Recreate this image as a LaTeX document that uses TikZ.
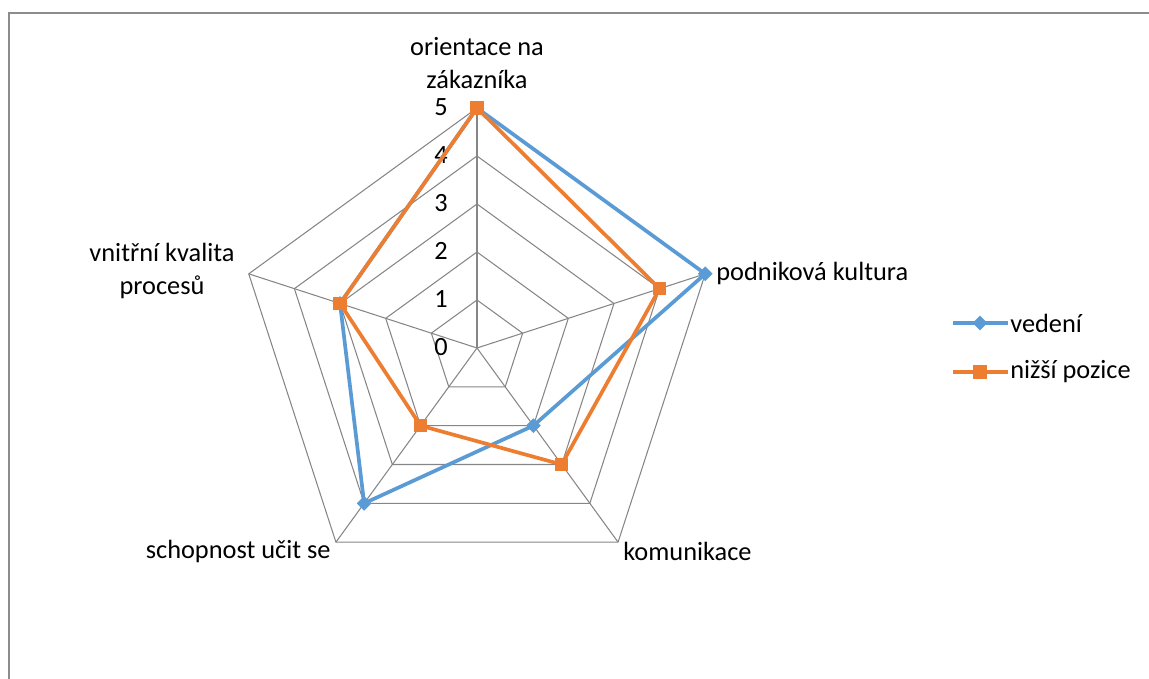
\documentclass[tikz,border=0pt]{standalone}
\usepackage{fontspec}
\setmainfont{Carlito}
\usetikzlibrary{shapes.geometric}
\definecolor{gridgray}{HTML}{868686}
\definecolor{framegray}{HTML}{8C8C8C}
\definecolor{vedblue}{HTML}{5B9BD5}
\definecolor{nizorange}{HTML}{ED7D31}
\tikzset{
  frame/.style={draw=framegray, line width=0.9pt},
  radargrid/.style={draw=gridgray, line width=0.6pt, line join=round},
  serA/.style={draw=vedblue, line width=2.1pt, line join=round},
  serB/.style={draw=nizorange, line width=2.1pt, line join=round},
  markA/.style={diamond, fill=vedblue, inner sep=0pt, minimum width=0.3cm, minimum height=0.3cm},
  markB/.style={rectangle, fill=nizorange, inner sep=0pt, minimum size=0.27cm},
  lab/.style={font=\fontsize{15}{18.5}\selectfont, inner sep=0pt},
  tick/.style={font=\fontsize{15}{18.5}\selectfont, inner sep=0pt},
}

\begin{document}
\begin{tikzpicture}[x=0.02cm, y=0.02cm]
  \useasboundingbox (-477,-331) rectangle (672,348);
  \def\u{48}

  % chart area frame
  \coordinate (fTL) at (-468,335);
  \coordinate (fTR) at (680,335);
  \coordinate (fBL) at (-468,-340);
  \draw[frame] (fTR) -- (fTL) -- (fBL);

  % axes: orientace, podnikova, komunikace, schopnost, vnitrni
  \coordinate (O) at (0,0);
  \foreach \i/\ang in {1/90,2/18,3/-54,4/-126,5/162}{
    \coordinate (ax\i) at (\ang:5*\u);
    \draw[radargrid] (O) -- (ax\i);
  }
  \foreach \k in {1,...,5}{
    \draw[radargrid] (90:\k*\u) -- (18:\k*\u) -- (-54:\k*\u)
      -- (-126:\k*\u) -- (162:\k*\u) -- cycle;
  }
  \foreach \k in {0,...,5}{
    \node[tick] (t\k) at (-36,\k*\u+1) {\k};
  }

  % category labels
  \node[lab, align=center] (c1) at (0,285) {orientace na\\zákazníka};
  \node[lab, anchor=west] (c2) at (239,75) {podniková kultura};
  \node[lab, anchor=west] (c3) at (146,-203) {komunikace};
  \node[lab, anchor=east] (c4) at (-146,-203) {schopnost učit se};
  \node[lab, align=center] (c5) at (-315,77) {vnitřní kvalita\\procesů};

  % series vedeni
  \foreach \i/\ang/\v in {1/90/5,2/18/5,3/-54/2,4/-126/4,5/162/3}{
    \coordinate (a\i) at (\ang:\v*\u);
  }
  \draw[serA] (a1) -- (a2) -- (a3) -- (a4) -- (a5) -- cycle;
  \foreach \i in {1,...,5}{
    \node[markA] (ma\i) at (a\i) {};
  }

  % series nizsi pozice
  \foreach \i/\ang/\v in {1/90/5,2/18/4,3/-54/3,4/-126/2,5/162/3}{
    \coordinate (b\i) at (\ang:\v*\u);
  }
  \draw[serB] (b1) -- (b2) -- (b3) -- (b4) -- (b5) -- cycle;
  \foreach \i in {1,...,5}{
    \node[markB] (mb\i) at (b\i) {};
  }

  % legend
  \coordinate (lAl) at (476,25);
  \coordinate (lAr) at (531,25);
  \draw[serA] (lAl) -- (lAr);
  \node[markA] (lAm) at (503,25) {};
  \node[lab, anchor=west] (lAt) at (533,25) {vedení};
  \coordinate (lBl) at (476,-24);
  \coordinate (lBr) at (531,-24);
  \draw[serB] (lBl) -- (lBr);
  \node[markB] (lBm) at (503,-24) {};
  \node[lab, anchor=west] (lBt) at (533,-24) {nižší pozice};
\end{tikzpicture}
\end{document}
